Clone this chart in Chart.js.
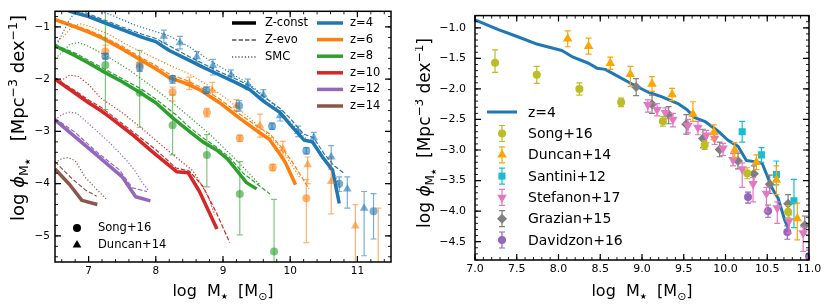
<!DOCTYPE html>
<html>
<head>
<meta charset="utf-8">
<script src="https://cdn.jsdelivr.net/npm/chart.js@4.4.1/dist/chart.umd.min.js"></script>
<style>
  body { margin: 0; background: #fff; }
  #wrap { position: relative; width: 831px; height: 307px; }
  canvas { position: absolute; top: 0; }
</style>
</head>
<body>
<div id="wrap">
  <canvas id="left" width="415" height="307" style="left:0"></canvas>
  <canvas id="right" width="416" height="307" style="left:415px"></canvas>
</div>
<script>
// ---------- DATA ----------

// tick labels
const leftXTicks = [7, 8, 9, 10, 11];
const leftYTicks = [-5, -4, -3, -2, -1];
const rightXTicks = [7.0, 7.5, 8.0, 8.5, 9.0, 9.5, 10.0, 10.5, 11.0];
const rightYTicks = [-4.5, -4.0, -3.5, -3.0, -2.5, -2.0, -1.5, -1.0];

// categories
const redshifts = ['z=4', 'z=6', 'z=8', 'z=10', 'z=12', 'z=14'];
const modelNames = ['Z-const', 'Z-evo', 'SMC'];
const surveysLeft = ['Song+16', 'Duncan+14'];
const surveysRight = ['Song+16', 'Duncan+14', 'Santini+12', 'Stefanon+17', 'Grazian+15', 'Davidzon+16'];

// model curves, [log M, log phi]
const z4Const = [[6.5,-0.55],[6.72,-0.7],[7.0,-0.8],[7.2,-0.9],[7.5,-1.05],[7.8,-1.2],[8.0,-1.28],[8.2,-1.45],[8.5,-1.64],[8.7,-1.77],[8.95,-1.92],[9.2,-2.07],[9.4,-2.2],[9.6,-2.42],[9.85,-2.64],[10.0,-2.87],[10.21,-3.17],[10.33,-3.2],[10.48,-3.49],[10.63,-3.74],[10.73,-4.38]];
const z4Evo = [[6.5,-0.5],[6.8,-0.66],[7.0,-0.75],[7.2,-0.85],[7.5,-1.0],[7.8,-1.14],[8.0,-1.22],[8.2,-1.36],[8.5,-1.57],[8.7,-1.7],[8.95,-1.86],[9.2,-2.0],[9.4,-2.13],[9.6,-2.33],[9.85,-2.56],[10.0,-2.75],[10.2,-3.05],[10.35,-3.12],[10.5,-3.42],[10.65,-3.65],[10.8,-3.8]];
const z4Smc = [[6.5,-1.4],[6.6,-1.15],[6.7,-0.9],[6.8,-0.7],[6.9,-0.6],[7.3,-0.75],[7.7,-0.97],[8.2,-1.17],[8.5,-1.38],[8.8,-1.64],[9.1,-1.87],[9.4,-2.1],[9.7,-2.42],[10.0,-2.82],[10.2,-3.1],[10.35,-3.25],[10.5,-3.55],[10.65,-3.8],[10.75,-4.1]];

const z6Const = [[6.5,-0.86],[6.8,-1.0],[7.0,-1.1],[7.2,-1.21],[7.5,-1.42],[7.8,-1.65],[8.0,-1.8],[8.2,-1.97],[8.45,-2.08],[8.65,-2.2],[8.95,-2.45],[9.24,-2.74],[9.54,-3.02],[9.69,-3.15],[9.84,-3.42],[9.93,-3.6],[10.08,-4.02]];
const z6Evo = [[6.5,-0.84],[6.8,-0.97],[7.0,-1.06],[7.2,-1.17],[7.5,-1.37],[7.8,-1.6],[8.0,-1.74],[8.2,-1.9],[8.45,-2.02],[8.65,-2.14],[8.95,-2.38],[9.24,-2.66],[9.54,-2.93],[9.7,-3.05],[9.9,-3.35],[10.05,-3.62],[10.28,-4.1]];
const z6Smc = [[6.5,-1.3],[6.62,-1.19],[6.75,-1.0],[6.87,-0.94],[7.0,-0.98],[7.3,-1.14],[7.6,-1.36],[8.2,-1.73],[8.5,-1.9],[8.8,-2.14],[9.1,-2.42],[9.4,-2.75],[9.6,-2.98],[9.8,-3.22],[9.95,-3.5],[10.15,-3.9]];

const z8Const = [[6.5,-1.36],[6.8,-1.55],[7.0,-1.69],[7.2,-1.84],[7.5,-2.05],[7.77,-2.26],[8.0,-2.45],[8.26,-2.75],[8.5,-3.0],[8.7,-3.2],[8.91,-3.36],[9.07,-3.53],[9.25,-3.82],[9.35,-3.98],[9.5,-4.1]];
const z8Evo = [[6.5,-1.34],[6.8,-1.5],[7.0,-1.64],[7.2,-1.78],[7.5,-1.99],[7.8,-2.2],[8.0,-2.38],[8.3,-2.68],[8.5,-2.92],[8.7,-3.12],[8.9,-3.3],[9.1,-3.5],[9.3,-3.8],[9.5,-4.0],[9.7,-4.2]];
const z8Smc = [[6.5,-1.6],[6.6,-1.5],[6.72,-1.33],[6.85,-1.3],[7.0,-1.37],[7.3,-1.58],[7.6,-1.82],[7.9,-2.1],[8.2,-2.4],[8.5,-2.72],[8.8,-3.05],[9.0,-3.3],[9.2,-3.55],[9.4,-3.82],[9.55,-4.02]];

const z10Const = [[6.5,-2.0],[6.8,-2.27],[7.0,-2.45],[7.18,-2.6],[7.33,-2.74],[7.67,-3.08],[7.96,-3.4],[8.31,-3.77],[8.48,-3.79],[8.65,-4.15],[8.91,-4.87]];
const z10Evo = [[6.5,-1.98],[6.8,-2.22],[7.0,-2.4],[7.2,-2.55],[7.5,-2.85],[7.8,-3.15],[8.0,-3.35],[8.3,-3.7],[8.5,-3.76],[8.7,-4.05],[8.9,-4.55],[9.1,-5.13]];
const z10Smc = [[6.5,-2.1],[6.6,-2.02],[6.72,-1.92],[6.85,-1.95],[7.0,-2.1],[7.18,-2.36],[7.5,-2.64],[7.8,-2.95],[8.1,-3.28],[8.4,-3.6],[8.55,-3.75],[8.67,-4.0],[8.78,-4.25],[8.88,-4.6]];

const z12Const = [[6.5,-2.78],[6.76,-3.06],[7.1,-3.43],[7.5,-3.87],[7.7,-4.25],[7.92,-4.33]];
const z12Evo = [[6.5,-2.75],[6.8,-3.02],[7.1,-3.37],[7.46,-3.74],[7.65,-4.08],[7.87,-4.15]];
const z12Smc = [[6.5,-2.78],[6.6,-2.68],[6.7,-2.63],[6.82,-2.65],[7.0,-2.85],[7.3,-3.2],[7.55,-3.53],[7.7,-3.77],[7.8,-3.98],[7.9,-4.15]];

const z14Const = [[6.5,-3.72],[6.72,-4.02],[6.9,-4.32],[7.13,-4.4]];
const z14Evo = [[6.5,-3.58],[6.75,-3.9],[6.95,-4.12],[7.12,-4.24]];
const z14Smc = [[6.5,-3.6],[6.6,-3.52],[6.7,-3.5],[6.8,-3.56],[6.95,-3.88],[7.1,-4.08],[7.28,-4.32]];

// observations, [log M, log phi, err down, err up]
const songZ4 = [[7.25,-1.56,0.05,0.05],[7.76,-1.77,0.08,0.08],[8.25,-2.0,0.08,0.07],[8.75,-2.21,0.06,0.06],[9.24,-2.51,0.1,0.1],[9.73,-2.9,0.06,0.06],[10.24,-3.37,0.06,0.06],[10.73,-4.0,0.15,0.13],[11.24,-4.53,0.53,0.34]];
const songZ6 = [[7.25,-1.47,0.12,0.12],[7.76,-1.72,0.12,0.12],[8.25,-2.25,0.17,0.1],[8.76,-2.64,0.08,0.08],[9.25,-3.13,0.06,0.06],[9.74,-3.69,0.06,0.06],[10.24,-4.28,0.85,0.36]];
const songZ8 = [[7.25,-1.73,0.85,1.03],[7.76,-2.26,0.66,0.81],[8.25,-2.88,0.57,0.58],[8.76,-3.45,0.61,0.39],[9.25,-4.2,0.78,0.62],[9.76,-5.3,0.6,1.0]];
const duncanZ4 = [[8.12,-1.18,0.12,0.12],[8.36,-1.3,0.12,0.12],[8.61,-1.57,0.1,0.1],[8.85,-1.74,0.18,0.12],[9.12,-1.92,0.1,0.1],[9.37,-2.1,0.1,0.1],[9.6,-2.3,0.1,0.1],[9.85,-2.7,0.1,0.1],[10.12,-3.0,0.1,0.1],[10.35,-3.12,0.1,0.1],[10.61,-3.49,0.23,0.22],[10.85,-4.1,0.37,0.23],[11.1,-4.47,0.91,0.32]];
const duncanZ6 = [[8.5,-2.08,0.12,0.12],[8.84,-2.21,0.15,0.15],[9.2,-2.51,0.1,0.12],[9.55,-2.89,0.22,0.22],[9.89,-3.34,0.15,0.15],[10.26,-3.64,0.36,0.15],[10.61,-3.96,0.62,0.47],[10.97,-4.81,0.7,0.41],[11.31,-5.9,0.2,1.43]];

// right panel
const z4Model = [[7.0,-0.87],[7.28,-1.03],[7.48,-1.13],[7.75,-1.27],[8.04,-1.37],[8.16,-1.47],[8.36,-1.58],[8.46,-1.66],[8.56,-1.68],[8.68,-1.77],[8.88,-1.92],[9.07,-2.05],[9.24,-2.13],[9.43,-2.24],[9.54,-2.34],[9.63,-2.47],[9.75,-2.53],[9.91,-2.69],[10.03,-2.84],[10.15,-2.94],[10.25,-3.17],[10.35,-3.19],[10.44,-3.22],[10.56,-3.63],[10.63,-3.79],[10.71,-4.15],[10.75,-4.28]];
const song16 = [[7.24,-1.57,0.16,0.21],[7.74,-1.77,0.14,0.14],[8.25,-2.0,0.1,0.1],[8.75,-2.22,0.07,0.07],[9.25,-2.53,0.08,0.08],[9.75,-2.92,0.07,0.07],[10.26,-3.38,0.09,0.09],[10.75,-4.01,0.1,0.1]];
const duncan14 = [[8.11,-1.18,0.13,0.13],[8.36,-1.3,0.13,0.13],[8.62,-1.58,0.1,0.1],[8.86,-1.76,0.2,0.13],[9.12,-1.92,0.12,0.12],[9.36,-2.09,0.1,0.1],[9.61,-2.41,0.12,0.2],[9.86,-2.71,0.12,0.12],[10.11,-3.0,0.12,0.12],[10.37,-3.2,0.12,0.12],[10.61,-3.49,0.24,0.23],[10.86,-4.12,0.35,0.25]];
const santini12 = [[10.2,-2.7,0.17,0.17],[10.43,-3.08,0.12,0.12],[10.61,-3.4,0.17,0.22],[10.82,-3.83,0.44,0.35]];
const stefanon17 = [[9.07,-2.26,0.12,0.08],[9.18,-2.34,0.1,0.1],[9.28,-2.39,0.1,0.08],[9.37,-2.5,0.12,0.1],[9.55,-2.6,0.12,0.1],[9.67,-2.63,0.12,0.1],[9.77,-2.76,0.12,0.08],[9.87,-2.81,0.1,0.08],[9.97,-2.97,0.12,0.08],[10.09,-3.16,0.1,0.1],[10.2,-3.31,0.3,0.1],[10.33,-3.55,0.3,0.1],[10.49,-3.71,0.3,0.1],[10.62,-3.95,0.25,0.1],[10.76,-4.16,0.2,0.1],[10.93,-4.36,0.3,0.1]];
const grazian15 = [[8.93,-1.97,0.14,0.14],[9.12,-2.25,0.15,0.15],[9.32,-2.42,0.15,0.13],[9.53,-2.58,0.16,0.16],[9.73,-2.81,0.15,0.15],[9.93,-2.99,0.12,0.12],[10.15,-3.18,0.13,0.13],[10.34,-3.39,0.13,0.13],[10.53,-3.56,0.15,0.15],[10.75,-3.88,0.15,0.15],[10.95,-4.23,0.15,0.15]];
const davidzon16 = [[10.27,-3.77,0.1,0.08],[10.51,-4.0,0.1,0.1],[10.74,-4.34,0.12,0.1],[11.0,-4.74,0.1,0.1]];

// ---------- STYLES ----------
const zColors = ['#1f77b4', '#ff7f0e', '#2ca02c', '#d62728', '#9467bd', '#8c564b'];
const zFaded = ['rgba(31,119,180,0.6)', 'rgba(255,127,14,0.6)', 'rgba(44,160,44,0.6)'];
const DASHES = [[], [4.5, 2], [1.2, 2]];
const WIDTHS = [3.5, 1.2, 1.2];
const FONT = '"DejaVu Sans"';

Chart.defaults.font.family = FONT;
Chart.defaults.color = '#000';

function toXY(rows) {
    return rows.map(r => ({ x: r[0], y: r[1] }));
}

function curve(rows, color, kind, width) {
    return {
        data: toXY(rows),
        showLine: true,
        borderColor: color,
        borderWidth: width || WIDTHS[kind],
        borderDash: DASHES[kind],
        borderJoinStyle: 'round',
        pointRadius: 0,
        tension: 0,
        clip: 0
    };
}

function points(rows, color, style, radius, rotation) {
    return {
        data: toXY(rows),
        errLo: rows.map(r => r[2]),
        errHi: rows.map(r => r[3]),
        showLine: false,
        borderColor: color,
        backgroundColor: color,
        pointBackgroundColor: color,
        pointBorderWidth: 0,
        pointRadius: radius,
        pointStyle: style,
        pointRotation: rotation || 0,
        clip: 0
    };
}

// marker for the hand drawn legends
function marker(ctx, style, x, y, r, color) {
    ctx.fillStyle = color;
    ctx.beginPath();
    if (style === 'circle') {
        ctx.arc(x, y, r, 0, Math.PI * 2);
    } else if (style === 'triangle') {
        ctx.moveTo(x, y - r);
        ctx.lineTo(x + r * 0.866, y + r / 2);
        ctx.lineTo(x - r * 0.866, y + r / 2);
    } else if (style === 'down') {
        ctx.moveTo(x, y + r);
        ctx.lineTo(x + r * 0.866, y - r / 2);
        ctx.lineTo(x - r * 0.866, y - r / 2);
    } else if (style === 'rect') {
        const s = r * Math.SQRT1_2;
        ctx.rect(x - s, y - s, 2 * s, 2 * s);
    } else if (style === 'rectRot') {
        ctx.moveTo(x - r, y); ctx.lineTo(x, y - r); ctx.lineTo(x + r, y); ctx.lineTo(x, y + r);
    }
    ctx.closePath();
    ctx.fill();
}

function errTick(ctx, x, top, bot, cap, color) {
    ctx.strokeStyle = color;
    ctx.lineWidth = 1.2;
    ctx.beginPath();
    ctx.moveTo(x, top); ctx.lineTo(x, bot);
    ctx.moveTo(x - cap, top); ctx.lineTo(x + cap, top);
    ctx.moveTo(x - cap, bot); ctx.lineTo(x + cap, bot);
    ctx.stroke();
}

// text with sub / superscripts: [text, size, dy, italic]
function richText(ctx, parts, cx, cy, rotate) {
    const fontOf = p => (p[3] ? 'italic ' : '') + p[1] + 'px ' + FONT;
    ctx.save();
    ctx.translate(cx, cy);
    if (rotate) ctx.rotate(-Math.PI / 2);
    let w = 0;
    parts.forEach(p => { ctx.font = fontOf(p); w += ctx.measureText(p[0]).width; });
    let x = -w / 2;
    ctx.fillStyle = '#000';
    ctx.textAlign = 'left';
    ctx.textBaseline = 'alphabetic';
    parts.forEach(p => {
        ctx.font = fontOf(p);
        ctx.fillText(p[0], x, p[2] || 0);
        x += ctx.measureText(p[0]).width;
    });
    ctx.restore();
}

// ---------- PLUGINS ----------
const errorBars = {
    id: 'errorBars',
    beforeDatasetDraw(chart, args) {
        const ds = chart.data.datasets[args.index];
        if (!ds.errLo) return;
        const { ctx, chartArea: a } = chart;
        const xs = chart.scales.x, ys = chart.scales.y;
        ctx.save();
        ctx.beginPath();
        ctx.rect(a.left, a.top, a.right - a.left, a.bottom - a.top);
        ctx.clip();
        ds.data.forEach((p, i) => {
            const px = xs.getPixelForValue(p.x);
            errTick(ctx, px, ys.getPixelForValue(p.y + ds.errHi[i]), ys.getPixelForValue(p.y - ds.errLo[i]), 3, ds.borderColor);
        });
        ctx.restore();
    }
};

const frameTicks = {
    id: 'frameTicks',
    afterDraw(chart, args, opts) {
        const { ctx, chartArea: a } = chart;
        const xs = chart.scales.x, ys = chart.scales.y;
        const steps = (min, max, step) => {
            const out = [];
            for (let k = Math.ceil(min / step - 1e-6); k * step <= max + 1e-6; k++) out.push(k * step);
            return out;
        };
        const tickX = (v, len) => {
            const px = xs.getPixelForValue(v);
            ctx.moveTo(px, a.bottom); ctx.lineTo(px, a.bottom - len);
            ctx.moveTo(px, a.top); ctx.lineTo(px, a.top + len);
        };
        const tickY = (v, len) => {
            const py = ys.getPixelForValue(v);
            ctx.moveTo(a.left, py); ctx.lineTo(a.left + len, py);
            ctx.moveTo(a.right, py); ctx.lineTo(a.right - len, py);
        };
        ctx.save();
        ctx.strokeStyle = '#000';
        ctx.lineWidth = 0.9;
        ctx.beginPath();
        steps(xs.min, xs.max, opts.xMinor).forEach(v => tickX(v, 3));
        steps(ys.min, ys.max, opts.yMinor).forEach(v => tickY(v, 3));
        ctx.stroke();
        ctx.lineWidth = 1.2;
        ctx.beginPath();
        opts.xMajor.forEach(v => tickX(v, 6));
        opts.yMajor.forEach(v => tickY(v, 6));
        ctx.stroke();
        ctx.lineWidth = 1.5;
        ctx.strokeRect(a.left, a.top, a.right - a.left, a.bottom - a.top);
        ctx.restore();
    }
};

const titles = {
    id: 'titles',
    afterDraw(chart, args, opts) {
        const ctx = chart.ctx;
        richText(ctx, opts.xParts, opts.xCenter, opts.xBase, false);
        richText(ctx, opts.yParts, opts.yBase, opts.yCenter, true);
    }
};

const leftLegend = {
    id: 'leftLegend',
    afterDraw(chart) {
        const ctx = chart.ctx;
        ctx.save();
        ctx.font = '11.5px ' + FONT;
        ctx.textBaseline = 'middle';
        modelNames.forEach((name, i) => {
            const y = 23 + i * 17;
            ctx.strokeStyle = '#000';
            ctx.lineWidth = WIDTHS[i];
            ctx.setLineDash(DASHES[i]);
            ctx.beginPath(); ctx.moveTo(232, y); ctx.lineTo(256, y); ctx.stroke();
            ctx.fillStyle = '#000';
            ctx.fillText(name, 265, y);
        });
        ctx.setLineDash([]);
        redshifts.forEach((name, i) => {
            const y = 23 + i * 16.6;
            ctx.strokeStyle = zColors[i];
            ctx.lineWidth = 3.5;
            ctx.beginPath(); ctx.moveTo(317, y); ctx.lineTo(343, y); ctx.stroke();
            ctx.fillStyle = '#000';
            ctx.fillText(name, 350, y);
        });
        ['circle', 'triangle'].forEach((st, i) => {
            const y = 228 + i * 17;
            marker(ctx, st, 77, y, st === 'circle' ? 4 : 5, '#000');
            ctx.fillStyle = '#000';
            ctx.fillText(surveysLeft[i], 98, y);
        });
        ctx.restore();
    }
};

const rightStyles = [
    ['circle', 4, '#bcbd22'], ['triangle', 5.5, '#ffa500'], ['rect', 5, '#17becf'],
    ['down', 5.5, '#e377c2'], ['rectRot', 5, '#7f7f7f'], ['circle', 4, '#9467bd']
];

const rightLegend = {
    id: 'rightLegend',
    afterDraw(chart) {
        const ctx = chart.ctx;
        ctx.save();
        ctx.font = '14px ' + FONT;
        ctx.textBaseline = 'middle';
        ctx.strokeStyle = zColors[0];
        ctx.lineWidth = 3;
        ctx.beginPath(); ctx.moveTo(72, 112); ctx.lineTo(102, 112); ctx.stroke();
        ctx.fillStyle = '#000';
        ctx.fillText('z=4', 113, 113);
        surveysRight.forEach((name, i) => {
            const y = 133.5 + i * 21.3;
            const s = rightStyles[i];
            errTick(ctx, 87, y - 8, y + 8, 3, s[2]);
            marker(ctx, s[0], 87, y, s[1], s[2]);
            ctx.fillStyle = '#000';
            ctx.fillText(name, 113, y + 1);
        });
        ctx.restore();
    }
};

// ---------- CHARTS ----------
function makeChart(id, c) {
    const tickFont = { family: FONT, size: c.tickSize };
    return new Chart(document.getElementById(id), {
        type: 'scatter',
        data: { datasets: c.datasets },
        options: {
            responsive: false,
            animation: false,
            events: [],
            layout: { padding: c.padding },
            plugins: {
                legend: { display: false },
                tooltip: { enabled: false },
                frameTicks: c.frame,
                titles: c.titles
            },
            scales: {
                x: {
                    type: 'linear', min: c.xRange[0], max: c.xRange[1],
                    afterBuildTicks: s => { s.ticks = c.xTicks.map(v => ({ value: v })); },
                    afterFit: s => { s.height = c.xH; },
                    grid: { display: false, drawTicks: false },
                    border: { display: false },
                    ticks: { padding: c.xPad, color: '#000', font: tickFont, autoSkip: false, maxRotation: 0, callback: c.fmt }
                },
                y: {
                    type: 'linear', min: c.yRange[0], max: c.yRange[1],
                    afterBuildTicks: s => { s.ticks = c.yTicks.map(v => ({ value: v })); },
                    afterFit: s => { s.width = c.yW; },
                    grid: { display: false, drawTicks: false },
                    border: { display: false },
                    ticks: { padding: c.yPad, color: '#000', font: tickFont, autoSkip: false, callback: c.fmt }
                }
            }
        },
        plugins: [errorBars, frameTicks, titles, c.legend]
    });
}

const minus = s => s.replace('-', '\u2212');

const modelSets = [
    [z4Const, z4Evo, z4Smc], [z6Const, z6Evo, z6Smc], [z8Const, z8Evo, z8Smc],
    [z10Const, z10Evo, z10Smc], [z12Const, z12Evo, z12Smc], [z14Const, z14Evo, z14Smc]
];
const leftCurves = [];
modelSets.forEach((set, zi) => set.forEach((rows, k) => leftCurves.push(curve(rows, zColors[zi], k))));

const xTitle = [['log  M', 16], ['\u2605', 8, 3], ['  [M', 16], ['\u2299', 11, 3.5], [']', 16]];
const yTitleLeft = [['log ', 18], ['\u03d5', 18, 0, true], ['M', 12.5, 4], ['\u2605', 7.5, 6], ['   [Mpc', 18], ['\u22123', 12.5, -7.5], [' dex', 18], ['\u22121', 12.5, -7.5], [']', 18]];
const yTitleRight = [['log ', 17], ['\u03d5', 17, 0, true], ['M', 12, 4], ['\u2605', 7, 6], ['  [Mpc', 17], ['\u22123', 12, -7], [' dex', 17], ['\u22121', 12, -7], [']', 17]];

makeChart('left', {
    datasets: [
        points(songZ4, zFaded[0], 'circle', 4),
        points(songZ6, zFaded[1], 'circle', 4),
        points(songZ8, zFaded[2], 'circle', 4),
        points(duncanZ4, zFaded[0], 'triangle', 5),
        points(duncanZ6, zFaded[1], 'triangle', 5)
    ].concat(leftCurves),
    padding: { left: 0, right: 24, top: 7, bottom: 0 },
    xRange: [6.5, 11.5], yRange: [-5.5, -0.7],
    xTicks: leftXTicks, yTicks: leftYTicks,
    xH: 45, yW: 55, xPad: 3, yPad: 5, tickSize: 10.5,
    fmt: v => minus(String(v)),
    frame: { xMinor: 0.2, yMinor: 0.2, xMajor: leftXTicks, yMajor: leftYTicks },
    titles: { xParts: xTitle, xCenter: 223, xBase: 296, yParts: yTitleLeft, yBase: 24, yCenter: 118 },
    legend: leftLegend
});

makeChart('right', {
    datasets: [
        points(song16, '#bcbd22', 'circle', 4),
        points(duncan14, '#ffa500', 'triangle', 5.5),
        points(santini12, '#17becf', 'rect', 5),
        points(stefanon17, '#e377c2', 'triangle', 5.5, 180),
        points(grazian15, '#7f7f7f', 'rectRot', 5),
        points(davidzon16, '#9467bd', 'circle', 4),
        curve(z4Model, zColors[0], 0, 3)
    ],
    padding: { left: 0, right: 22, top: 7, bottom: 0 },
    xRange: [7, 11], yRange: [-4.8, -0.8],
    xTicks: rightXTicks, yTicks: rightYTicks,
    xH: 47, yW: 60, xPad: 3, yPad: 9, tickSize: 11,
    fmt: v => minus(v.toFixed(1)),
    frame: { xMinor: 0.1, yMinor: 0.1, xMajor: rightXTicks, yMajor: rightYTicks },
    titles: { xParts: xTitle, xCenter: 227, xBase: 296, yParts: yTitleRight, yBase: 15, yCenter: 133 },
    legend: rightLegend
});
</script>
</body>
</html>
